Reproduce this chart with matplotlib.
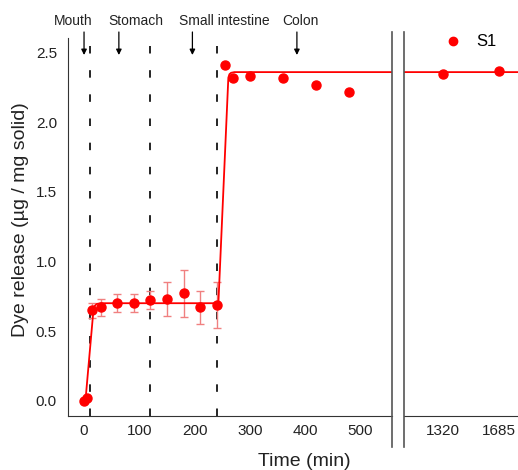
import matplotlib

matplotlib.use("Agg")

import matplotlib.pyplot as plt
import matplotlib.transforms as mtransforms
from matplotlib.lines import Line2D

# measured release of dye (S1)
time_early = [0, 5, 15, 30, 60, 90, 120, 150, 180, 210, 240]
release_early = [0.00, 0.02, 0.65, 0.67, 0.70, 0.70, 0.72, 0.73, 0.77, 0.67, 0.685]
err_early = [0.0, 0.0, 0.055, 0.06, 0.065, 0.065, 0.065, 0.12, 0.17, 0.12, 0.165]
time_late = [255, 270, 300, 360, 420, 480, 1320, 1685]
release_late = [2.41, 2.32, 2.33, 2.32, 2.27, 2.22, 2.35, 2.37]

# fitted curve
fit_time = [0, 3, 17, 19, 23, 30, 240, 243, 261, 263, 266, 272, 1820]
fit_release = [0.0, 0.02, 0.65, 0.68, 0.695, 0.70, 0.70, 0.70, 2.32, 2.345, 2.355, 2.36, 2.36]

# gut stages
stage_bounds = [10, 120, 240]
stage_names = ["Mouth", "Stomach", "Small intestine", "Colon"]
stage_arrow_t = [0, 63, 196, 385]
stage_label_t = [-20, 94, 253, 392]

RED = "#ff0000"
ERR_RED = "#f08080"
DARK = "#222222"
SPINE = "#333333"

plt.rcParams["font.family"] = ["Liberation Sans", "DejaVu Sans"]

W, H = 518, 470
fig = plt.figure(figsize=(W / 100, H / 100), dpi=100)


def px_box(x0, x1, y_top, y_bot):
    return [x0 / W, 1 - y_bot / H, (x1 - x0) / W, (y_bot - y_top) / H]


ax = fig.add_axes(px_box(68, 392, 38, 415.7))
ax2 = fig.add_axes(px_box(404, 519, 38, 415.7), sharey=ax)

ylim = (-0.108, 2.605)

for a in (ax, ax2):
    a.plot(fit_time, fit_release, color=RED, linewidth=1.3, zorder=3)
    a.errorbar(time_early, release_early, yerr=err_early, fmt="none", ecolor=ERR_RED,
               elinewidth=1.0, capsize=3, capthick=1.0, zorder=2)
    a.plot(time_early, release_early, "o", color=RED, markersize=6.5, zorder=4)
    a.plot(time_late, release_late, "o", color=RED, markersize=6.5, zorder=4)
    a.set_ylim(*ylim)
    a.tick_params(length=0, labelsize=11, colors=DARK, pad=6)
    a.spines["top"].set_visible(False)
    a.spines["right"].set_visible(False)
    a.spines["bottom"].set_color(SPINE)

for t in stage_bounds:
    ax.axvline(t, color="black", linewidth=1.2, linestyle=(0, (4.5, 10)), zorder=1)

ax.set_xlim(-29, 557)
ax.set_xticks([0, 100, 200, 300, 400, 500])
ax.set_yticks([0.0, 0.5, 1.0, 1.5, 2.0, 2.5])
ax.set_yticklabels([f"{v:.1f}" for v in [0.0, 0.5, 1.0, 1.5, 2.0, 2.5]])
ax.spines["left"].set_color(SPINE)
ax.tick_params(axis="y", pad=8)

ax2.set_xlim(1066, 1815)
ax2.set_xticks([1320, 1685])
ax2.spines["left"].set_visible(False)
ax2.tick_params(axis="y", labelleft=False)

# break lines
for xp in (392, 404):
    fig.add_artist(Line2D([xp / W, xp / W], [1 - 32 / H, 1 - 447 / H], color="#555555", linewidth=1.2))

# stage arrows and labels
trans = mtransforms.blended_transform_factory(ax.transData, fig.transFigure)
for name, ta, tl in zip(stage_names, stage_arrow_t, stage_label_t):
    ax.annotate("", xy=(ta, 1 - 55 / H), xytext=(ta, 1 - 32 / H), xycoords=trans, textcoords=trans,
                arrowprops=dict(arrowstyle="-|>", color="black", lw=0.9, mutation_scale=8,
                                shrinkA=0, shrinkB=0), annotation_clip=False)
    ax.text(tl, 1 - 21 / H, name, transform=trans, ha="center", va="center", fontsize=10, color=DARK)

fig.text(304 / W, 1 - 461 / H, "Time (min)", ha="center", va="center", fontsize=14, color=DARK)
fig.text(21 / W, 1 - 220 / H, "Dye release (µg / mg solid)", ha="center", va="center",
         rotation=90, fontsize=14, color=DARK)

handle = Line2D([0], [0], marker="o", color=RED, linestyle="none", markersize=6)
fig.legend(handles=[handle], labels=["S1"], loc="center", bbox_to_anchor=(466 / W, 1 - 42 / H),
           frameon=False, fontsize=12, handletextpad=0.4, borderaxespad=0, borderpad=0)

fig.savefig("out.png", dpi=100)
